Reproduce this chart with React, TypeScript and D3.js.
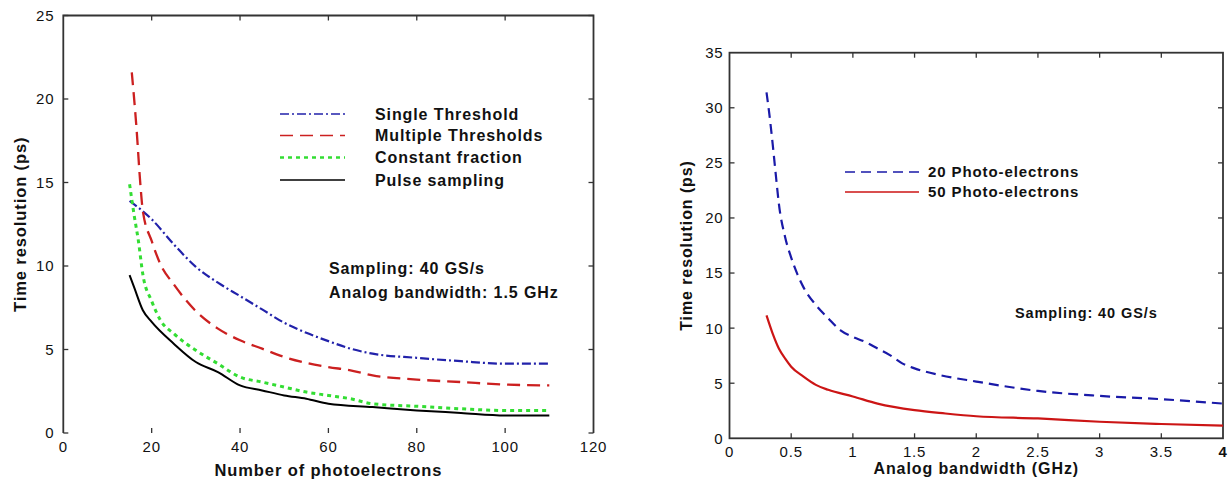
import React from 'react';
import * as d3 from 'd3';

// ---- Left chart data (Number of photoelectrons vs time resolution) ----
const leftXTicks = [0, 20, 40, 60, 80, 100, 120];
const leftYTicks = [0, 5, 10, 15, 20, 25];

const singleX = [15, 20, 25, 30, 35, 40, 45, 50, 55, 60, 65, 70, 80, 90, 100, 110];
const singleY = [13.9, 12.8, 11.3, 9.95, 9.0, 8.2, 7.4, 6.6, 6.0, 5.5, 5.05, 4.75, 4.5, 4.3, 4.15, 4.15];

const multiX = [15.5, 16.5, 17.5, 18, 20, 22, 25, 30, 35, 40, 45, 50, 55, 60, 65, 70, 80, 90, 100, 110];
const multiY = [21.6, 18.5, 14.7, 13.3, 11.5, 10.1, 8.9, 7.3, 6.25, 5.55, 5.05, 4.55, 4.2, 3.95, 3.75, 3.45, 3.2, 3.05, 2.9, 2.85];

const cfX = [15, 16, 17, 18, 20, 22, 25, 30, 35, 40, 45, 50, 55, 60, 65, 70, 80, 90, 100, 110];
const cfY = [14.9, 13.1, 11.5, 9.5, 7.9, 6.75, 5.95, 4.95, 4.15, 3.35, 3.05, 2.75, 2.45, 2.25, 2.05, 1.75, 1.6, 1.45, 1.35, 1.35];

const pulseX = [15, 16, 18, 20, 25, 30, 35, 40, 45, 50, 55, 60, 70, 80, 90, 100, 110];
const pulseY = [9.45, 8.75, 7.35, 6.65, 5.35, 4.25, 3.65, 2.85, 2.55, 2.25, 2.05, 1.75, 1.55, 1.35, 1.2, 1.05, 1.05];

const leftLegend = ['Single Threshold', 'Multiple Thresholds', 'Constant fraction', 'Pulse sampling'];

// ---- Right chart data (Analog bandwidth vs time resolution) ----
const rightXTicks = [0, 0.5, 1, 1.5, 2, 2.5, 3, 3.5, 4];
const rightYTicks = [0, 5, 10, 15, 20, 25, 30, 35];

const pe20X = [0.3, 0.32, 0.35, 0.38, 0.4, 0.45, 0.5, 0.55, 0.6, 0.7, 0.8, 0.9, 1.0, 1.1, 1.2, 1.3, 1.4, 1.5, 1.7, 2.0, 2.5, 3.0, 3.5, 4.0];
const pe20Y = [31.4, 29.7, 26.7, 23.4, 21.3, 18.3, 16.4, 14.9, 13.7, 12.1, 10.9, 9.8, 9.2, 8.75, 8.15, 7.55, 6.8, 6.35, 5.75, 5.15, 4.3, 3.85, 3.55, 3.15];

const pe50X = [0.3, 0.35, 0.4, 0.45, 0.5, 0.6, 0.7, 0.8, 1.0, 1.2, 1.5, 1.75, 2.0, 2.5, 3.0, 3.5, 4.0];
const pe50Y = [11.15, 9.5, 8.15, 7.25, 6.5, 5.6, 4.85, 4.4, 3.8, 3.15, 2.55, 2.25, 2.0, 1.8, 1.5, 1.3, 1.15];

const rightLegend = ['20 Photo-electrons', '50 Photo-electrons'];

const FONT = '"Liberation Sans", Arial, sans-serif';
const AXIS = '#333';

function zip(xs: number[], ys: number[]): [number, number][] {
  return xs.map((x, i) => [x, ys[i]]);
}

export default function App() {
  // Left scales
  const lx = d3.scaleLinear().domain([0, 120]).range([63.3, 593.5]);
  const ly = d3.scaleLinear().domain([0, 25]).range([433, 15.5]);
  // Right scales
  const rx = d3.scaleLinear().domain([0, 4]).range([729.5, 1223]);
  const ry = d3.scaleLinear().domain([0, 35]).range([438.3, 52.7]);

  const lLine = d3.line<[number, number]>().x(d => lx(d[0])).y(d => ly(d[1])).curve(d3.curveMonotoneX);
  const rLine = d3.line<[number, number]>().x(d => rx(d[0])).y(d => ry(d[1])).curve(d3.curveMonotoneX);

  const leftSeries = [
    { d: zip(singleX, singleY), color: '#2222aa', dash: '9 3 2 3', w: 2.2 },
    { d: zip(multiX, multiY), color: '#cc2020', dash: '13 7', w: 2.3 },
    { d: zip(cfX, cfY), color: '#33dd33', dash: '4 4', w: 3 },
    { d: zip(pulseX, pulseY), color: '#000000', dash: 'none', w: 2 },
  ];
  const rightSeries = [
    { d: zip(pe20X, pe20Y), color: '#1a1aa8', dash: '10 6', w: 2.2 },
    { d: zip(pe50X, pe50Y), color: '#cc1515', dash: 'none', w: 2.2 },
  ];

  const tickLen = 5;
  const tickStyle = { fontFamily: FONT, fontSize: 15, letterSpacing: 0.8, fill: '#111' } as const;
  const boldStyle = { fontFamily: FONT, fontSize: 16, fontWeight: 700, letterSpacing: 0.9, fill: '#111' } as const;

  const [l0, l1] = lx.range();
  const [lb, lt] = ly.range();
  const [r0, r1] = rx.range();
  const [rb, rt] = ry.range();

  const legendRowsL = [114, 135.5, 157.5, 180];
  const legendRowsR = [172, 192];

  return (
    <svg width={1229} height={485} style={{ position: 'absolute', left: 0, top: 0, background: '#fff' }}>
      <rect x={0} y={0} width={1229} height={485} fill="#fff" />
      {/* ===== LEFT CHART ===== */}
      <g>
        {/* frame: left, top, right (no visible bottom line) */}
        <path d={`M${l0},${lb} L${l0},${lt} L${l1},${lt} L${l1},${lb}`} fill="none" stroke={AXIS} strokeWidth={1.8} />
        {leftYTicks.map(t => (
          <g key={'ly' + t}>
            <line x1={l0} x2={l0 + tickLen} y1={ly(t)} y2={ly(t)} stroke={AXIS} strokeWidth={1.3} />
            <line x1={l1} x2={l1 - tickLen} y1={ly(t)} y2={ly(t)} stroke={AXIS} strokeWidth={1.3} />
            <text x={l0 - 9} y={ly(t)} dy="0.36em" textAnchor="end" style={tickStyle}>{t}</text>
          </g>
        ))}
        {leftXTicks.map(t => (
          <g key={'lx' + t}>
            {t > 0 && t < 120 && (
              <>
                <line x1={lx(t)} x2={lx(t)} y1={lb} y2={lb - tickLen} stroke={AXIS} strokeWidth={1.3} />
                <line x1={lx(t)} x2={lx(t)} y1={lt} y2={lt + tickLen} stroke={AXIS} strokeWidth={1.3} />
              </>
            )}
            <text x={lx(t)} y={452} textAnchor="middle" style={tickStyle}>{t}</text>
          </g>
        ))}
        {leftSeries.map((s, i) => (
          <path key={'ls' + i} d={lLine(s.d) || ''} fill="none" stroke={s.color} strokeWidth={s.w}
            strokeDasharray={s.dash} />
        ))}
        {/* legend */}
        {leftLegend.map((name, i) => (
          <g key={'lleg' + i}>
            <line x1={280} x2={345} y1={legendRowsL[i]} y2={legendRowsL[i]} stroke={leftSeries[i].color}
              strokeWidth={i === 2 ? 2.6 : 1.5} strokeDasharray={leftSeries[i].dash === 'none' ? undefined : leftSeries[i].dash} />
            <text x={375} y={legendRowsL[i]} dy="0.36em" style={boldStyle}>{name}</text>
          </g>
        ))}
        <text x={329} y={268} dy="0.36em" style={boldStyle}>Sampling: 40 GS/s</text>
        <text x={329} y={292} dy="0.36em" style={boldStyle}>Analog bandwidth: 1.5 GHz</text>
        <text x={(l0 + l1) / 2} y={476} textAnchor="middle" style={{ ...boldStyle, fontSize: 16.5 }}>Number of photoelectrons</text>
        <text transform={`translate(26,${(lb + lt) / 2}) rotate(-90)`} textAnchor="middle" style={{ ...boldStyle, fontSize: 16.5 }}>Time resolution (ps)</text>
      </g>

      {/* ===== RIGHT CHART ===== */}
      <g>
        <rect x={r0} y={rt} width={r1 - r0} height={rb - rt} fill="none" stroke={AXIS} strokeWidth={1.8} />
        {rightYTicks.map(t => (
          <g key={'ry' + t}>
            {t > 0 && t < 35 && (
              <>
                <line x1={r0} x2={r0 + tickLen} y1={ry(t)} y2={ry(t)} stroke={AXIS} strokeWidth={1.3} />
                <line x1={r1} x2={r1 - tickLen} y1={ry(t)} y2={ry(t)} stroke={AXIS} strokeWidth={1.3} />
              </>
            )}
            <text x={r0 - 6} y={ry(t)} dy="0.36em" textAnchor="end" style={tickStyle}>{t}</text>
          </g>
        ))}
        {rightXTicks.map(t => (
          <g key={'rx' + t}>
            {t > 0 && t < 4 && (
              <>
                <line x1={rx(t)} x2={rx(t)} y1={rb} y2={rb - tickLen} stroke={AXIS} strokeWidth={1.3} />
                <line x1={rx(t)} x2={rx(t)} y1={rt} y2={rt + tickLen} stroke={AXIS} strokeWidth={1.3} />
              </>
            )}
            <text x={rx(t)} y={457} textAnchor="middle" style={t === 4 ? { ...tickStyle, fontWeight: 700 } : tickStyle}>{t}</text>
          </g>
        ))}
        {rightSeries.map((s, i) => (
          <path key={'rs' + i} d={rLine(s.d) || ''} fill="none" stroke={s.color} strokeWidth={s.w}
            strokeDasharray={s.dash} />
        ))}
        {rightLegend.map((name, i) => (
          <g key={'rleg' + i}>
            <line x1={845} x2={919} y1={legendRowsR[i]} y2={legendRowsR[i]} stroke={rightSeries[i].color}
              strokeWidth={1.6} strokeDasharray={rightSeries[i].dash === 'none' ? undefined : rightSeries[i].dash} />
            <text x={928} y={legendRowsR[i]} dy="0.36em" style={{ ...boldStyle, fontSize: 15 }}>{name}</text>
          </g>
        ))}
        <text x={1015} y={313} dy="0.36em" style={{ ...boldStyle, fontSize: 14.5 }}>Sampling: 40 GS/s</text>
        <text x={(r0 + r1) / 2} y={474} textAnchor="middle" style={boldStyle}>Analog bandwidth (GHz)</text>
        <text transform={`translate(692,${(rb + rt) / 2}) rotate(-90)`} textAnchor="middle" style={boldStyle}>Time resolution (ps)</text>
      </g>
    </svg>
  );
}
